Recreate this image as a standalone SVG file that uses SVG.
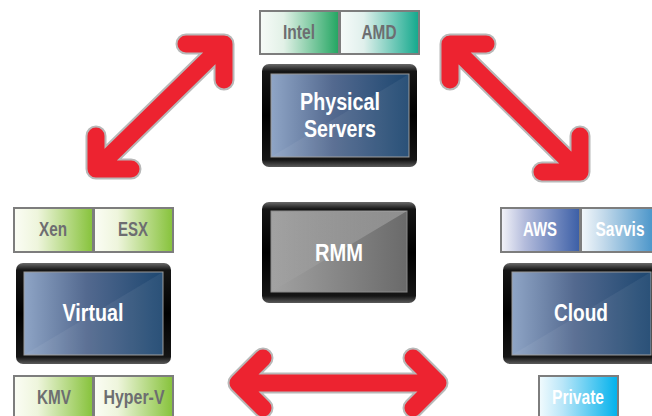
<svg xmlns="http://www.w3.org/2000/svg" width="652" height="416" viewBox="0 0 652 416">
<style>
.out{fill:none;stroke:#b8b8b8;stroke-width:21;stroke-linecap:round;stroke-linejoin:round}
.arr{fill:none;stroke:#ed2330;stroke-width:17;stroke-linecap:round;stroke-linejoin:round}
.tag{stroke:#7d7d7d;stroke-width:2}
.tt{font-family:"Liberation Sans",Arial,sans-serif;font-weight:bold;font-size:20px;text-anchor:middle;fill:#6d6e71}
.tw{fill:#ffffff}
.mt{font-family:"Liberation Sans",Arial,sans-serif;font-weight:bold;font-size:24.5px;text-anchor:middle;fill:#ffffff}
.bezel{fill:url(#bz)}
.scr{fill:url(#blue);stroke:#9a9a9a;stroke-width:1}
.glint{stroke:url(#gl);stroke-width:1.5}
</style>
<defs>
<linearGradient id="bz" x1="0" y1="0" x2="0" y2="1">
<stop offset="0" stop-color="#6a6a6a"/><stop offset="0.07" stop-color="#151515"/><stop offset="0.5" stop-color="#000"/><stop offset="0.93" stop-color="#151515"/><stop offset="1" stop-color="#5a5a5a"/>
</linearGradient>
<linearGradient id="gl" x1="0" y1="0" x2="1" y2="0">
<stop offset="0" stop-color="#fff" stop-opacity="0"/><stop offset="0.5" stop-color="#fff" stop-opacity="0.9"/><stop offset="1" stop-color="#fff" stop-opacity="0"/>
</linearGradient>
<linearGradient id="blue" x1="0" y1="0" x2="1" y2="0">
<stop offset="0" stop-color="#8fa5c6"/><stop offset="0.45" stop-color="#53698f"/><stop offset="1" stop-color="#1d4770"/>
</linearGradient>
<linearGradient id="gray" x1="0" y1="0" x2="1" y2="0">
<stop offset="0" stop-color="#a2a2a2"/><stop offset="1" stop-color="#6a6a6a"/>
</linearGradient>
<linearGradient id="shine" x1="0" y1="0" x2="1" y2="0">
<stop offset="0" stop-color="#fff" stop-opacity="0"/><stop offset="1" stop-color="#fff" stop-opacity="0.25"/>
</linearGradient>
<linearGradient id="gIntel" x1="0" y1="0" x2="1" y2="0"><stop offset="0" stop-color="#f7fbf8"/><stop offset="0.3" stop-color="#e2f1e7"/><stop offset="1" stop-color="#22a561"/></linearGradient>
<linearGradient id="gAmd" x1="0" y1="0" x2="1" y2="0"><stop offset="0" stop-color="#f7fbfa"/><stop offset="0.3" stop-color="#e0f0ec"/><stop offset="1" stop-color="#12a88c"/></linearGradient>
<linearGradient id="gGreen" x1="0" y1="0" x2="1" y2="0"><stop offset="0" stop-color="#fbfdf5"/><stop offset="0.3" stop-color="#eef5dc"/><stop offset="1" stop-color="#86c23a"/></linearGradient>
<linearGradient id="gAws" x1="0" y1="0" x2="1" y2="0"><stop offset="0" stop-color="#f4f4f9"/><stop offset="0.3" stop-color="#b4bcdc"/><stop offset="1" stop-color="#3b5ea6"/></linearGradient>
<linearGradient id="gSav" x1="0" y1="0" x2="1" y2="0"><stop offset="0" stop-color="#f4f8fb"/><stop offset="0.3" stop-color="#c0d8ea"/><stop offset="1" stop-color="#3a8cc5"/></linearGradient>
<linearGradient id="gPriv" x1="0" y1="0" x2="1" y2="0"><stop offset="0" stop-color="#f2fbfe"/><stop offset="0.3" stop-color="#b9e6f8"/><stop offset="1" stop-color="#00b1ec"/></linearGradient>
</defs>

<g id="connectors">
<g id="arrow-virtual-physical">
<path class="out" d="M96,169 L224,44 M186,44 L224,44 L224,80 M96,136 L96,169 L131,169"/>
<path class="arr" d="M96,169 L224,44 M186,44 L224,44 L224,80 M96,136 L96,169 L131,169"/>
</g>
<g id="arrow-physical-cloud">
<path class="out" d="M450,44 L580,172 M486,44 L450,44 L450,80 M580,136 L580,172 L542,172"/>
<path class="arr" d="M450,44 L580,172 M486,44 L450,44 L450,80 M580,136 L580,172 L542,172"/>
</g>
<g id="arrow-virtual-cloud">
<path class="out" d="M238,383 L438,383 M263,358 L238,383 L263,408 M413,358 L438,383 L413,408"/>
<path class="arr" d="M238,383 L438,383 M263,358 L238,383 L263,408 M413,358 L438,383 L413,408"/>
</g>
</g>

<g id="physical-tags">
<rect class="tag" x="260" y="11" width="79" height="43" fill="url(#gIntel)"/>
<rect class="tag" x="340" y="11" width="79" height="43" fill="url(#gAmd)"/>
<text class="tt" x="299" y="39" textLength="32" lengthAdjust="spacingAndGlyphs">Intel</text>
<text class="tt" x="379" y="39" textLength="35" lengthAdjust="spacingAndGlyphs">AMD</text>
</g>

<g id="physical-servers">
<rect class="bezel" x="262" y="64" width="155" height="103" rx="7"/>
<rect class="scr" x="271" y="74" width="138" height="83"/>
<polygon points="271,157 409,74 409,157" fill="#fff" fill-opacity="0.06"/>
<line class="glint" x1="275" y1="160" x2="405" y2="160"/>
<text class="mt" x="340" y="110" textLength="80" lengthAdjust="spacingAndGlyphs">Physical</text>
<text class="mt" x="340" y="137" textLength="72" lengthAdjust="spacingAndGlyphs">Servers</text>
</g>

<g id="rmm">
<rect class="bezel" x="262" y="202" width="154" height="101" rx="7"/>
<rect x="271" y="211" width="136" height="81" fill="url(#gray)" stroke="#8a8a8a" stroke-width="1"/>
<polygon points="271,292 407,211 271,211" fill="url(#shine)"/>
<line class="glint" x1="275" y1="295" x2="403" y2="295"/>
<text class="mt" x="339" y="261" textLength="48" lengthAdjust="spacingAndGlyphs">RMM</text>
</g>

<g id="virtual-tags">
<rect class="tag" x="14" y="208" width="79" height="44" fill="url(#gGreen)"/>
<rect class="tag" x="94" y="208" width="79" height="44" fill="url(#gGreen)"/>
<text class="tt" x="53" y="236" textLength="28" lengthAdjust="spacingAndGlyphs">Xen</text>
<text class="tt" x="133" y="236" textLength="30" lengthAdjust="spacingAndGlyphs">ESX</text>
</g>

<g id="virtual">
<rect class="bezel" x="16" y="263" width="155" height="101" rx="7"/>
<rect class="scr" x="24" y="272" width="139" height="83"/>
<polygon points="24,355 163,272 163,355" fill="#fff" fill-opacity="0.06"/>
<line class="glint" x1="28" y1="358" x2="159" y2="358"/>
<text class="mt" x="93" y="321" textLength="61" lengthAdjust="spacingAndGlyphs">Virtual</text>
</g>

<g id="virtual-tags-bottom">
<rect class="tag" x="14" y="376" width="79" height="46" fill="url(#gGreen)"/>
<rect class="tag" x="94" y="376" width="79" height="46" fill="url(#gGreen)"/>
<text class="tt" x="54" y="404" textLength="34" lengthAdjust="spacingAndGlyphs">KMV</text>
<text class="tt" x="134" y="404" textLength="61" lengthAdjust="spacingAndGlyphs">Hyper-V</text>
</g>

<g id="cloud-tags">
<rect class="tag" x="501" y="208" width="79" height="44" fill="url(#gAws)"/>
<rect class="tag" x="581" y="208" width="79" height="44" fill="url(#gSav)"/>
<text class="tt tw" x="540" y="236" textLength="34" lengthAdjust="spacingAndGlyphs">AWS</text>
<text class="tt tw" x="620" y="236" textLength="49" lengthAdjust="spacingAndGlyphs">Savvis</text>
</g>

<g id="cloud">
<rect class="bezel" x="503" y="263" width="156" height="101" rx="7"/>
<rect class="scr" x="512" y="272" width="139" height="83"/>
<polygon points="512,355 651,272 651,355" fill="#fff" fill-opacity="0.06"/>
<line class="glint" x1="516" y1="358" x2="647" y2="358"/>
<text class="mt" x="581" y="321" textLength="54" lengthAdjust="spacingAndGlyphs">Cloud</text>
</g>

<g id="cloud-tags-bottom">
<rect class="tag" x="539" y="376" width="79" height="46" fill="url(#gPriv)"/>
<text class="tt tw" x="578" y="404" textLength="52" lengthAdjust="spacingAndGlyphs">Private</text>
</g>
</svg>
